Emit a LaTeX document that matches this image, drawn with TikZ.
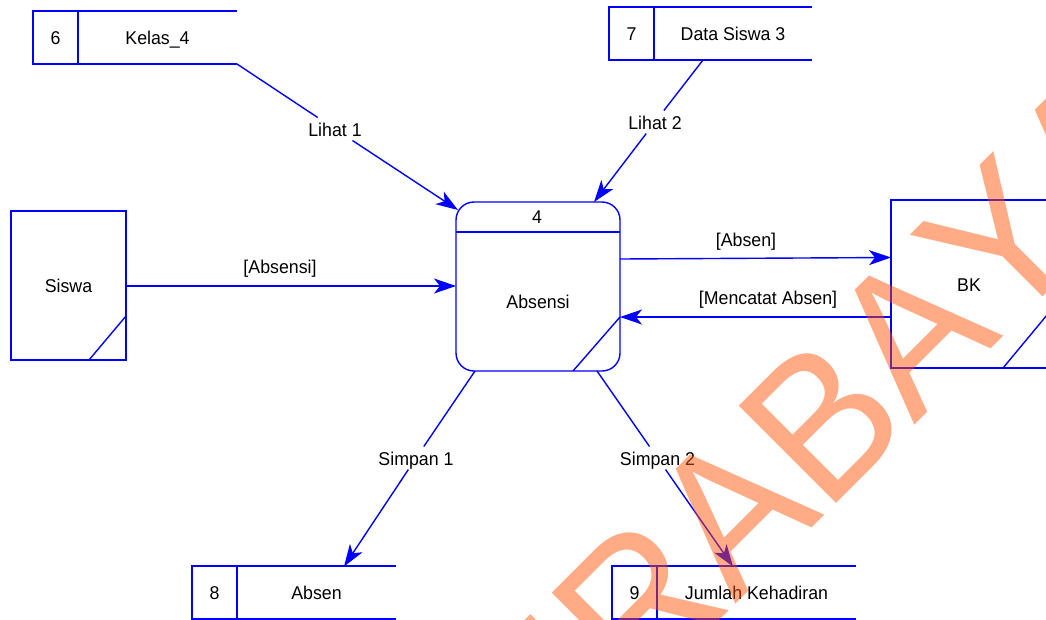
\documentclass[tikz,border=0pt]{standalone}
\usepackage{fontspec}
\setmainfont[FakeStretch=0.96]{Liberation Sans}
\newfontfamily\wmfont[Kerning=Off,FakeStretch=0.95]{Liberation Sans}
\usetikzlibrary{arrows.meta,calc}
\definecolor{dfd}{RGB}{0,0,255}
\definecolor{wmcol}{RGB}{255,80,0}
\tikzset{
  x=1pt,y=-1pt,
  every node/.style={inner sep=0pt,outer sep=0pt,font=\fontsize{18.5}{20}\selectfont,text=black,text height=14pt,text depth=0pt},
  line/.style={draw=dfd,line width=1.4pt},
  flow/.style={line,-{Stealth[length=22pt,width=15pt,inset=6pt]}},
  numcell/.style={draw=dfd,line width=1.4pt,minimum width=45pt,minimum height=53pt},
  namecell/.style={minimum height=53pt},
  entity/.style={draw=dfd,line width=1.4pt},
  proc/.style={draw=dfd,line width=1.4pt,rounded corners=18pt,minimum width=164pt,minimum height=169pt},
  flowlabel/.style={minimum width=50pt,minimum height=23pt},
}
\begin{document}
\begin{tikzpicture}
\useasboundingbox (0,0) rectangle (1046,619);
\clip (0,0) rectangle (1046,619);
\fill[white] (0,0) rectangle (1046,619);

% data stores
\node[numcell] (kelasn) at (55.5,37.5) {6};
\node[namecell,minimum width=159pt] (kelas) at (157.5,37.5) {Kelas\_4};
\node[numcell] (datan) at (631.5,33.5) {7};
\node[namecell,minimum width=158pt] (data) at (733,33.5) {Data Siswa 3};
\node[numcell] (absenn) at (214.5,592.5) {8};
\node[namecell,minimum width=159pt] (absen) at (316.5,592.5) {Absen};
\node[numcell] (jumlahn) at (634.5,592.5) {9};
\node[namecell,minimum width=199pt] (jumlah) at (756.5,592.5) {Jumlah Kehadiran};
\foreach \s in {kelas,data,absen,jumlah}{
  \draw[line] (\s.north west) -- (\s.north east);
  \draw[line] (\s.south west) -- (\s.south east);
}

% external entities
\node[entity,minimum width=115pt,minimum height=149pt] (siswa) at (68.5,285.5) {Siswa};
\draw[line] ($(siswa.south east)+(-37,0)$) -- ($(siswa.south east)+(0,-44)$);
\node[entity,minimum width=156pt,minimum height=168pt] (bk) at (969,284) {BK};
\draw[line] ($(bk.south east)+(-44,0)$) -- ($(bk.south east)+(0,-53)$);

% process
\node[proc] (p) at (538,286.5) {};
\node (pid) at (537,216.5) {4};
\node (pname) at (538,301) {Absensi};
\draw[line] ($(p.north west)+(0,30)$) -- ($(p.north east)+(0,30)$);
\draw[line] ($(p.south east)+(-47,0)$) -- ($(p.south east)+(0,-54)$);

% connection points on the process and stores
\coordinate (pL1) at (458,210);
\coordinate (pL2) at (594,202);
\coordinate (pW) at (456,286);
\coordinate (pOut) at (620,259);
\coordinate (bkIn) at (891,257.5);
\coordinate (bkOut) at (891,317);
\coordinate (pIn) at (620,317);
\coordinate (pS1) at (475,371);
\coordinate (pS2) at (597,371);
\coordinate (absenIn) at (344,566.5);
\coordinate (jumlahIn) at (733,566.5);
\coordinate (dataOut) at (703,60);
\coordinate (siswaOut) at (126,286);

% inline labels
\node[flowlabel] (l1) at (335,129) {Lihat 1};
\node[flowlabel] (l2) at (655,122) {Lihat 2};
\node[flowlabel] (s1) at (416,458) {Simpan 1};
\node[flowlabel] (s2) at (657.5,458) {Simpan 2};

% connectors
\draw[line] (kelas.south east) -- (l1);
\draw[flow] (l1) -- (pL1);
\draw[line] (dataOut) -- (l2);
\draw[flow] (l2) -- (pL2);
\draw[line] (pS1) -- (s1);
\draw[flow] (s1) -- (absenIn);
\draw[line] (pS2) -- (s2);
\draw[flow] (s2) -- (jumlahIn);
\draw[flow] (siswaOut) -- (pW);
\draw[flow] (pOut) -- (bkIn);
\draw[flow] (bkOut) -- (pIn);

% labels above lines
\node (la) at (280,266) {[Absensi]};
\node (lb) at (746,239) {[Absen]};
\node (lm) at (768,297) {[Mencatat Absen]};

% watermark
\node[anchor=base west,rotate=45,opacity=.48,text=wmcol,text height=0pt,font=\wmfont\fontsize{200}{200}\selectfont] (wm) at (452,888) {SURABAYA};
\end{tikzpicture}
\end{document}
